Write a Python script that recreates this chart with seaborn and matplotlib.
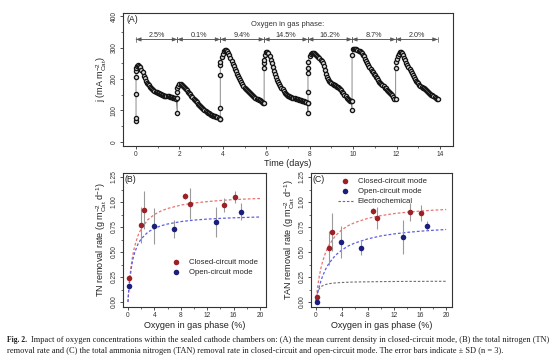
import matplotlib
matplotlib.use("Agg")
import matplotlib.pyplot as plt
from matplotlib.ticker import MultipleLocator, FormatStrFormatter
import seaborn as sns
import pandas as pd

# ---- (A) mean current density, closed circuit, one list per oxygen step ----
time_1 = [0.0, 0.0, 0.0, 0.0, 0.0, 0.0,
          0.05, 0.1, 0.15, 0.2, 0.25, 0.3, 0.35, 0.4, 0.45, 0.5, 0.55, 0.6, 0.65, 0.7,
          0.75, 0.8, 0.85, 0.9, 0.95, 1.0, 1.05, 1.1, 1.15, 1.2, 1.25, 1.3, 1.35, 1.4,
          1.45, 1.5, 1.55, 1.6, 1.65, 1.7, 1.75, 1.8, 1.85]
j_1 = [67, 77, 152, 206, 225, 235,
       240, 244, 242, 237, 230, 221, 211, 202, 194, 188, 184, 180, 176, 172,
       168, 165, 162, 159, 158, 156, 154, 152, 151, 150, 148, 147, 146, 146,
       145, 145, 144, 143, 142, 141, 140, 139, 137]
time_2 = [1.9, 1.9, 1.9, 1.9,
          1.95, 2.0, 2.05, 2.1, 2.15, 2.2, 2.25, 2.3, 2.35, 2.4, 2.45, 2.5, 2.55, 2.6,
          2.65, 2.7, 2.75, 2.8, 2.85, 2.9, 2.95, 3.0, 3.05, 3.1, 3.15, 3.2, 3.25, 3.3,
          3.35, 3.4, 3.45, 3.5, 3.55, 3.6, 3.65, 3.7, 3.75, 3.8, 3.85]
j_2 = [93, 139, 160, 170,
       178, 184, 184, 182, 179, 176, 172, 168, 164, 160, 155, 151, 146, 142,
       138, 134, 130, 126, 122, 118, 114, 111, 107, 104, 101, 98, 95, 93,
       91, 89, 87, 86, 84, 83, 81, 80, 78, 76, 73]
time_3 = [3.88, 3.88, 3.88, 3.88, 3.88,
          3.95, 4.0, 4.05, 4.1, 4.15, 4.2, 4.25, 4.3, 4.35, 4.4, 4.45, 4.5, 4.55, 4.6,
          4.65, 4.7, 4.75, 4.8, 4.85, 4.9, 4.95, 5.0, 5.05, 5.1, 5.15, 5.2, 5.25, 5.3,
          5.35, 5.4, 5.45, 5.5, 5.55, 5.6, 5.65, 5.7, 5.75, 5.8, 5.85]
j_3 = [73, 109, 213, 244, 255,
       270, 280, 288, 292, 291, 288, 282, 275, 267, 258, 249, 240, 232, 225,
       217, 210, 203, 196, 190, 184, 178, 173, 169, 165, 161, 158, 155, 152,
       149, 146, 143, 141, 138, 136, 134, 132, 130, 128, 125]
time_4 = [5.9, 5.9, 5.9, 5.9,
          5.95, 6.0, 6.05, 6.1, 6.15, 6.2, 6.25, 6.3, 6.35, 6.4, 6.45, 6.5, 6.55, 6.6,
          6.65, 6.7, 6.75, 6.8, 6.85, 6.9, 6.95, 7.0, 7.05, 7.1, 7.15, 7.2, 7.25, 7.3,
          7.35, 7.4, 7.45, 7.5, 7.55, 7.6, 7.65, 7.7, 7.75, 7.8, 7.85, 7.9]
j_4 = [124, 235, 251, 262,
       275, 285, 287, 282, 273, 262, 250, 238, 226, 215, 206, 198, 191, 185,
       178, 172, 167, 162, 157, 152, 149, 147, 145, 144, 142, 141, 140, 139,
       137, 136, 135, 134, 133, 132, 131, 130, 129, 128, 126, 125]
time_5 = [7.92, 7.92, 7.92, 7.92, 7.92, 7.92,
          8.0, 8.05, 8.1, 8.15, 8.2, 8.25, 8.3, 8.35, 8.4, 8.45, 8.5, 8.55, 8.6, 8.65,
          8.7, 8.75, 8.8, 8.85, 8.9, 8.95, 9.0, 9.05, 9.1, 9.15, 9.2, 9.25, 9.3, 9.35,
          9.4, 9.45, 9.5, 9.55, 9.6, 9.65, 9.7, 9.75, 9.8, 9.85, 9.9]
j_5 = [93, 125, 160, 218, 234, 255,
       272, 279, 283, 283, 282, 280, 277, 274, 270, 266, 262, 256, 250, 240,
       228, 217, 208, 201, 195, 191, 188, 185, 182, 180, 178, 176, 174, 171,
       168, 164, 160, 155, 150, 145, 140, 136, 132, 131, 130]
time_6 = [9.95, 9.95, 9.95,
          10.0, 10.05, 10.1, 10.15, 10.2, 10.25, 10.3, 10.35, 10.4, 10.45, 10.5, 10.55,
          10.6, 10.65, 10.7, 10.75, 10.8, 10.85, 10.9, 10.95, 11.0, 11.05, 11.1, 11.15,
          11.2, 11.25, 11.3, 11.35, 11.4, 11.45, 11.5, 11.55, 11.6, 11.65, 11.7, 11.75,
          11.8, 11.85, 11.9]
j_6 = [102, 130, 276,
       297, 296, 295, 294, 292, 290, 288, 285, 282, 277, 272, 265,
       258, 251, 245, 238, 232, 227, 222, 217, 212, 207, 202, 197,
       192, 188, 184, 180, 177, 173, 170, 166, 163, 159, 156, 152,
       148, 143, 138]
time_7 = [11.96, 11.96, 11.96,
          12.0, 12.05, 12.1, 12.15, 12.2, 12.25, 12.3, 12.35, 12.4, 12.45, 12.5, 12.55,
          12.6, 12.65, 12.7, 12.75, 12.8, 12.85, 12.9, 12.95, 13.0, 13.05, 13.1, 13.15,
          13.2, 13.25, 13.3, 13.35, 13.4, 13.45, 13.5, 13.55, 13.6, 13.65, 13.7, 13.75,
          13.8, 13.85, 13.9]
j_7 = [136, 234, 255,
       264, 272, 280, 287, 286, 283, 276, 268, 260, 252, 245, 238,
       231, 225, 218, 212, 206, 200, 195, 190, 186, 182, 179, 176,
       173, 170, 167, 164, 161, 159, 156, 153, 150, 148, 145, 143,
       140, 138, 135]

step_bounds = [0, 1.9, 3.88, 5.9, 7.92, 9.95, 11.96, 13.9]
step_labels = ["2.5%", "0.1%", "9.4%", "14.5%", "16.2%", "8.7%", "2.0%"]

# ---- (B) TN removal rate ----
o2_closed = [0.1, 2.0, 2.5, 8.7, 9.4, 14.5, 16.2]
o2_open = [0.1, 3.9, 6.9, 13.3, 17.1]
tn_closed = [0.24, 0.77, 0.92, 1.06, 0.985, 0.97, 1.05]
tn_closed_sd = [0.03, 0.18, 0.19, 0.03, 0.155, 0.07, 0.06]
tn_open = [0.16, 0.76, 0.735, 0.80, 0.905]
tn_open_sd = [0.03, 0.18, 0.09, 0.15, 0.085]

# ---- (C) TAN removal rate ----
tan_closed = [0.055, 0.54, 0.70, 0.91, 0.84, 0.90, 0.89]
tan_closed_sd = [0.02, 0.17, 0.19, 0.03, 0.11, 0.09, 0.08]
tan_open = [0.0, 0.60, 0.545, 0.65, 0.765]
tan_open_sd = [0.0, 0.16, 0.07, 0.17, 0.045]

# fitted curves
fit_o2 = [0, 0.1, 0.25, 0.5, 0.75, 1, 1.5, 2, 3, 4, 5, 6, 8, 10, 12, 14, 16, 18, 20]
tn_fit_closed = [0, 0.102, 0.224, 0.372, 0.476, 0.554, 0.662, 0.733, 0.822, 0.875, 0.910,
                 0.935, 0.969, 0.990, 1.004, 1.015, 1.024, 1.030, 1.035]
tn_fit_open = [0, 0.098, 0.21, 0.34, 0.428, 0.491, 0.577, 0.631, 0.698, 0.737, 0.762,
               0.780, 0.804, 0.819, 0.829, 0.836, 0.842, 0.846, 0.850]
tan_fit_closed = [0, 0.062, 0.142, 0.249, 0.331, 0.398, 0.497, 0.568, 0.663, 0.723, 0.765,
                  0.795, 0.837, 0.864, 0.884, 0.898, 0.909, 0.918, 0.925]
tan_fit_open = [0, 0.035, 0.083, 0.151, 0.206, 0.254, 0.329, 0.386, 0.467, 0.521, 0.561,
                0.590, 0.632, 0.661, 0.681, 0.696, 0.708, 0.717, 0.725]
tan_fit_echem = [0, 0.053, 0.095, 0.131, 0.150, 0.162, 0.175, 0.183, 0.191, 0.195, 0.198,
                 0.200, 0.202, 0.204, 0.205, 0.206, 0.206, 0.207, 0.207]

RED = "#9c2126"
BLUE = "#1b1f7c"
RED_FIT = "#e8746e"
BLUE_FIT = "#5b5fe0"
GRAY = "#9a9a9a"
INK = "#333333"

sns.set_theme(style="ticks")
plt.rcParams["font.family"] = ["Liberation Sans", "DejaVu Sans"]
plt.rcParams["mathtext.default"] = "regular"

fig = plt.figure(figsize=(5.54, 3.64), dpi=100)
W, H = 554, 364


def px_axes(l, t, r, b):
    return fig.add_axes([l / W, 1 - b / H, (r - l) / W, (b - t) / H])


def style_axes(ax):
    ax.tick_params(which="major", direction="out", length=2.5, width=0.6, labelsize=4.8,
                   colors=INK, pad=1.2)
    ax.tick_params(which="minor", direction="out", length=1.5, width=0.5, colors=INK)
    ax.tick_params(axis="y", which="both", labelrotation=90)
    for lab in ax.get_yticklabels():
        lab.set_va("center")
    for s in ax.spines.values():
        s.set_color(INK)
        s.set_linewidth(0.8)


# ---- panel A ----
axA = px_axes(123, 13, 453, 146)
df_a = pd.DataFrame({
    "time": time_1 + time_2 + time_3 + time_4 + time_5 + time_6 + time_7,
    "j": j_1 + j_2 + j_3 + j_4 + j_5 + j_6 + j_7,
})
sns.lineplot(data=df_a, x="time", y="j", sort=False, estimator=None, color="#777777",
             linewidth=0.6, ax=axA)
sns.scatterplot(data=df_a, x="time", y="j", marker="o", s=9, facecolor="#dcdcdc",
                edgecolor="#151515", linewidth=0.95, ax=axA, zorder=3)
axA.set_xlim(-0.6, 14.6)
axA.set_ylim(-13, 410)
axA.xaxis.set_major_locator(MultipleLocator(2))
axA.xaxis.set_minor_locator(MultipleLocator(1))
axA.yaxis.set_major_locator(MultipleLocator(100))
axA.yaxis.set_minor_locator(MultipleLocator(50))
axA.set_xlabel("Time (days)", fontsize=6.5, labelpad=0.3, color="#222222")
axA.set_ylabel("j (mA m$_{Cat}^{-2}$)", fontsize=6.5, labelpad=1.5, color="#222222")
style_axes(axA)
axA.text(0.01, 0.985, "(A)", transform=axA.transAxes, ha="left", va="top", fontsize=6.3,
         color="#222222")
axA.text(7.0, 375, "Oxygen in gas phase:", ha="center", va="center", fontsize=5.4,
         color="#333333")
for i, lab in enumerate(step_labels):
    a, b = step_bounds[i], step_bounds[i + 1]
    axA.annotate("", xy=(b, 326), xytext=(a, 326),
                 arrowprops=dict(arrowstyle="<|-|>,head_length=0.25,head_width=0.1",
                                 color="#555555", lw=0.5, shrinkA=0, shrinkB=0))
    axA.annotate("", xy=(b, 326), xytext=(a, 326),
                 arrowprops=dict(arrowstyle="|-|,widthA=0.15,widthB=0.15",
                                 color="#555555", lw=0.5, shrinkA=0, shrinkB=0))
    axA.text((a + b) / 2, 340, lab, ha="center", va="center", fontsize=5.2, color="#333333")


def rate_panel(ax, closed, closed_sd, open_, open_sd, fit_c, fit_o, ylabel, tag):
    ax.errorbar(o2_closed, closed, yerr=closed_sd, fmt="none", ecolor=GRAY, elinewidth=0.8,
                capsize=0, zorder=2)
    ax.errorbar(o2_open, open_, yerr=open_sd, fmt="none", ecolor=GRAY, elinewidth=0.8,
                capsize=0, zorder=2)
    sns.lineplot(x=fit_o2, y=fit_c, color=RED_FIT, linestyle=(0, (2.2, 1.6)), linewidth=0.9,
                 ax=ax, zorder=1)
    sns.lineplot(x=fit_o2, y=fit_o, color=BLUE_FIT, linestyle=(0, (2.2, 1.6)), linewidth=0.9,
                 ax=ax, zorder=1)
    sns.scatterplot(x=o2_closed, y=closed, color=RED, s=16, linewidth=0, ax=ax, zorder=3,
                    label="Closed-circuit mode")
    sns.scatterplot(x=o2_open, y=open_, color=BLUE, s=16, linewidth=0, ax=ax, zorder=3,
                    label="Open-circuit mode")
    ax.set_xlim(-0.75, 20.9)
    ax.set_ylim(-0.05, 1.29)
    ax.xaxis.set_major_locator(MultipleLocator(4))
    ax.xaxis.set_minor_locator(MultipleLocator(2))
    ax.yaxis.set_major_locator(MultipleLocator(0.25))
    ax.yaxis.set_minor_locator(MultipleLocator(0.125))
    ax.yaxis.set_major_formatter(FormatStrFormatter("%.2f"))
    ax.set_xlabel("Oxygen in gas phase (%)", fontsize=6.5, labelpad=1.5, color="#222222")
    ax.set_ylabel(ylabel, fontsize=6.5, labelpad=1.5, color="#222222")
    style_axes(ax)
    ax.text(0.01, 0.985, tag, transform=ax.transAxes, ha="left", va="top", fontsize=6.3,
            color="#222222")


axB = px_axes(123, 173, 266, 307)
rate_panel(axB, tn_closed, tn_closed_sd, tn_open, tn_open_sd, tn_fit_closed, tn_fit_open,
           "TN removal rate (g m$_{Cat}^{-2}$ d$^{-1}$)", "(B)")
axB.legend(loc="upper left", bbox_to_anchor=(0.325, 0.385), frameon=False, fontsize=5.6,
           handletextpad=1.1, borderaxespad=0, labelspacing=0.35, handlelength=1.0)

axC = px_axes(311, 173, 452, 307)
rate_panel(axC, tan_closed, tan_closed_sd, tan_open, tan_open_sd, tan_fit_closed,
           tan_fit_open, "TAN removal rate (g m$_{Cat}^{-2}$ d$^{-1}$)", "(C)")
sns.lineplot(x=fit_o2, y=tan_fit_echem, color="#6e6e6e", linestyle=(0, (2.2, 1.6)),
             linewidth=0.8, ax=axC, zorder=1, label="Electrochemical")
handles, labels = axC.get_legend_handles_labels()
axC.legend(handles, labels, loc="upper left", bbox_to_anchor=(0.17, 0.99), frameon=False,
           fontsize=5.6, handletextpad=0.6, borderaxespad=0, labelspacing=0.35,
           handlelength=1.9)

# ---- caption ----
cap_font = ["Liberation Serif", "DejaVu Serif"]
cap1 = ("Impact of oxygen concentrations within the sealed cathode chambers on: (A) the mean "
        "current density in closed-circuit mode, (B) the total nitrogen (TN)")
cap2 = ("removal rate and (C) the total ammonia nitrogen (TAN) removal rate in closed-circuit "
        "and open-circuit mode. The error bars indicate \u00b1 SD (n = 3).")
fig.canvas.draw()
rend = fig.canvas.get_renderer()
fs = 5.5
head = fig.text(7 / W, 1 - 340 / H, "Fig. 2.", family=cap_font, fontsize=fs,
                weight="bold", va="center", ha="left", color="#1a1a1a")
hb = head.get_window_extent(rend)
body = fig.text((hb.x1 + 4) / W, 1 - 340 / H, cap1, family=cap_font, fontsize=fs,
                va="center", ha="left", color="#1a1a1a")
bb = body.get_window_extent(rend)
# stretch line one to the right margin
target = 541 - (hb.x1 + 4)
body.set_fontsize(fs * target / bb.width)
fig.text(7 / W, 1 - 351 / H, cap2, family=cap_font, fontsize=fs * target / bb.width,
         va="center", ha="left", color="#1a1a1a")

fig.savefig("out.png", dpi=100)
